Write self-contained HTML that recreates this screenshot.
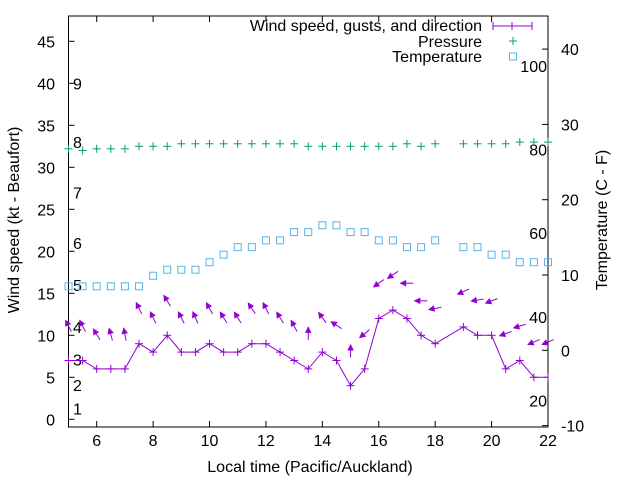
<!DOCTYPE html>
<html><head><meta charset="utf-8"><style>
body{margin:0;background:#fff;}
svg{display:block;font-family:"Liberation Sans",sans-serif;}
</style></head><body>
<svg id="c" width="640" height="480" viewBox="0 0 640 480"></svg>
<script>
const times=[5,5.5,6,6.5,7,7.5,8,8.5,9,9.5,10,10.5,11,11.5,12,12.5,13,13.5,14,14.5,15,15.5,16,16.5,17,17.5,18,19,19.5,20,20.5,21,21.5,22];
const windSpeed=[7,7,6,6,6,9,8,10,8,8,9,8,8,9,9,8,7,6,8,7,4,6,12,13,12,10,9,11,10,10,6,7,5,5];
const gustTimes=[5,5.5,6,6.5,7,7.5,8,8.5,9,9.5,10,10.5,11,11.5,12,12.5,13,13.5,14,14.5,15,15.5,16,16.5,17,17.5,18,19,19.5,20,20.5,21,21.5,22];
const gust=[11.1,11.1,10.1,10.1,10.1,13.2,12.1,14.1,12.1,12.1,13.2,12.1,12.1,13.2,13.2,12.1,11.1,10.2,12.1,11.2,8.1,10.2,16.2,17.2,16.2,14.1,13.2,15.2,14.2,14.1,10.2,11.1,9.2,9.2];
const windDir=[333,333,328,345,349,334,334,329,333,336,331,328,328,326,333,328,332,0,324,304,0,231,234,236,270,270,260,246,260,249,250,253,247,247];
const tempTimes=[5,5.5,6,6.5,7,7.5,8,8.5,9,9.5,10,10.5,11,11.5,12,12.5,13,13.5,14,14.5,15,15.5,16,16.5,17,17.5,18,19,19.5,20,20.5,21,21.5,22];
const temperature=[8.5,8.5,8.5,8.5,8.5,8.5,9.9,10.7,10.7,10.7,11.7,12.7,13.7,13.7,14.6,14.6,15.7,15.7,16.6,16.6,15.7,15.7,14.6,14.6,13.7,13.7,14.6,13.7,13.7,12.7,12.7,11.7,11.7,11.7];
const pressTimes=[5,5.5,6,6.5,7,7.5,8,8.5,9,9.5,10,10.5,11,11.5,12,12.5,13,13.5,14,14.5,15,15.5,16,16.5,17,17.5,18,19,19.5,20,20.5,21,21.5,22];
const pressure=[32.2,32.0,32.2,32.2,32.2,32.5,32.5,32.5,32.8,32.8,32.8,32.8,32.8,32.8,32.8,32.8,32.8,32.5,32.5,32.5,32.5,32.5,32.5,32.5,32.8,32.5,32.8,32.8,32.8,32.8,32.8,33.0,33.0,33.0];
const xTicks=[6,8,10,12,14,16,18,20,22];
const yTicks=[0,5,10,15,20,25,30,35,40,45];
const y2Ticks=[-10,0,10,20,30,40];
const beaufortLabels=["1","2","3","4","5","6","7","8","9"];
const beaufortKt=[1.3,4.1,7.1,11,16,21,27,33,40];
const fahrLabels=[20,40,60,80,100];

const L=68.5,R=548,T=16,B=427;
const X=t=>L+(t-5)*(R-L)/17;
const Y=v=>419.3-8.4*v;
const Y2=c=>350.3-7.53*c;
const svg=document.getElementById('c');
const NS='http://www.w3.org/2000/svg';
function mk(tag,attrs,parent){const e=document.createElementNS(NS,tag);for(const k in attrs)e.setAttribute(k,attrs[k]);(parent||svg).appendChild(e);return e;}
function txt(s,x,y,anchor,size){const e=mk('text',{x:x,y:y,'text-anchor':anchor,'font-size':size||16,fill:'#000'});e.textContent=s;return e;}

// frame
const frame=mk('rect',{x:L,y:T,width:R-L,height:B-T,fill:'none',stroke:'#000','stroke-width':1});


xTicks.forEach(t=>{
  const g=mk('g',{});
  
  
  mk('line',{x1:X(t),x2:X(t),y1:B,y2:B-6,stroke:'#000'},g);
  mk('line',{x1:X(t),x2:X(t),y1:T,y2:T+6,stroke:'#000'},g);
  const l=txt(String(t),X(t),B+19,'middle');g.appendChild(l);
});
yTicks.forEach(v=>{
  const g=mk('g',{});
  
  
  mk('line',{x1:L,x2:L+6,y1:Y(v),y2:Y(v),stroke:'#000'},g);
  const l=txt(String(v),55,Y(v)+6,'end');g.appendChild(l);
});
y2Ticks.forEach(v=>{
  const g=mk('g',{});
  
  
  mk('line',{x1:R,x2:R-6,y1:Y2(v),y2:Y2(v),stroke:'#000'},g);
  const l=txt(String(v),561,Y2(v)+6,'start');g.appendChild(l);
});
beaufortLabels.forEach((s,i)=>{
  const l=txt(s,73,Y(beaufortKt[i])+6,'start');
  
  
});
fahrLabels.forEach(f=>{
  const l=txt(String(f),547,Y2((f-32)*5/9)+6,'end');
  
  
});
// axis titles
const xt=txt('Local time (Pacific/Auckland)',310,472,'middle');


const yt=txt('Wind speed (kt - Beaufort)',0,0,'middle');
yt.setAttribute('transform','translate(19,220) rotate(-90)');


const y2t=txt('Temperature (C - F)',0,0,'middle');
y2t.setAttribute('transform','translate(607,220) rotate(-90)');



const P='#9400d3',G='#009e73',B2='#56b4e9';
// pressure
pressure.forEach((v,i)=>{
  const g=mk('g',{stroke:G,'stroke-width':1});
  
  
  const x=X(pressTimes[i]),y=Y(v);
  mk('line',{x1:x-4,x2:x+4,y1:y,y2:y},g);mk('line',{x1:x,x2:x,y1:y-4,y2:y+4},g);
});
// temperature
temperature.forEach((v,i)=>{
  const r=mk('rect',{x:X(tempTimes[i])-3.5,y:Y2(v)-3.5,width:7,height:7,fill:'none',stroke:B2,'stroke-width':1});
  
  
});
// wind line
const cx=v=>Math.max(L,Math.min(R,v));
let d='M'+L+','+Y(windSpeed[0]);
windSpeed.forEach((v,i)=>{d+=' L'+X(times[i])+','+Y(v);});
const wl=mk('path',{d:d,fill:'none',stroke:P,'stroke-width':1});


windSpeed.forEach((v,i)=>{
  const g=mk('g',{stroke:P,'stroke-width':1});
  
  
  const x=X(times[i]),y=Y(v);
  mk('line',{x1:x-4,x2:cx(x+4),y1:y,y2:y},g);mk('line',{x1:x,x2:x,y1:y-4,y2:y+4},g);
});
// gust arrows
gust.forEach((v,i)=>{
  const a=windDir[i]*Math.PI/180,len=12.5;
  const ux=Math.sin(a),uy=-Math.cos(a);
  const x=X(gustTimes[i]),y=Y(v);
  const x1=x-ux*len/2,y1=y-uy*len/2,x2=x+ux*len/2,y2=y+uy*len/2;
  const g=mk('g',{stroke:P,fill:P,'stroke-width':1});
  
  
  mk('line',{x1:x1,y1:y1,x2:x2,y2:y2},g);
  const h=5,w=2.5,bx=x2-ux*h,by=y2-uy*h;
  mk('polygon',{points:`${x2},${y2} ${bx-uy*w},${by+ux*w} ${bx+uy*w},${by-ux*w}`},g);
});
// legend
const lg=mk('g',{});


const e1=txt('Wind speed, gusts, and direction',482,31,'end');lg.appendChild(e1);
const e2=txt('Pressure',482,47,'end');lg.appendChild(e2);
const e3=txt('Temperature',482,62,'end');lg.appendChild(e3);
mk('line',{x1:493,x2:532,y1:26,y2:26,stroke:P},lg);
mk('line',{x1:493,x2:493,y1:22,y2:30,stroke:P},lg);
mk('line',{x1:532,x2:532,y1:22,y2:30,stroke:P},lg);
mk('line',{x1:512,x2:512,y1:22,y2:30,stroke:P},lg);
mk('line',{x1:509,x2:517,y1:41,y2:41,stroke:G},lg);
mk('line',{x1:513,x2:513,y1:37,y2:45,stroke:G},lg);
mk('rect',{x:509.5,y:53,width:7,height:7,fill:'none',stroke:B2},lg);
</script>
</body></html>
